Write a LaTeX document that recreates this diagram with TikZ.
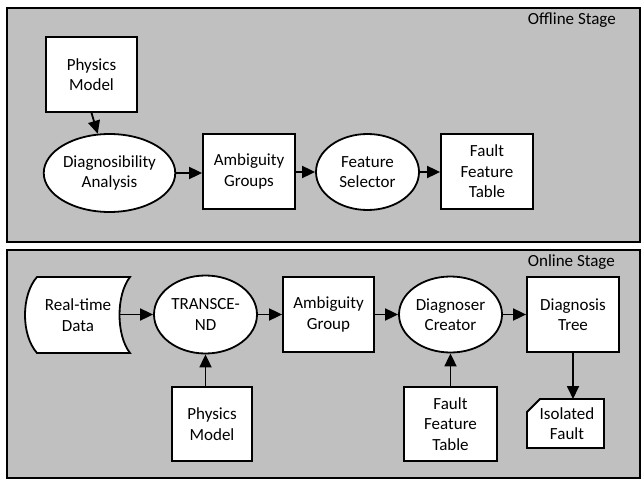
\documentclass[tikz,border=0pt]{standalone}
\usepackage{fontspec}
\setmainfont{Carlito}
\usetikzlibrary{arrows.meta,shapes.geometric,calc}
\definecolor{panelgray}{RGB}{192,192,192}
\begin{document}
\begin{tikzpicture}[x=1pt,y=-1pt,
  every node/.style={font=\fontsize{17}{20.5}\selectfont, align=center, inner sep=0pt},
  panel/.style={draw=black, line width=2pt, fill=panelgray},
  boxnode/.style={draw=black, line width=1.8pt, fill=white, minimum width=92pt, minimum height=75pt},
  ellnode/.style={ellipse, draw=black, line width=1.8pt, fill=white, minimum width=103pt, minimum height=77pt},
  shapeline/.style={draw=black, line width=1.8pt, fill=white},
  flow/.style={draw=black, line width=1.8pt, -{Triangle[length=13pt,width=12pt]}}
]
\useasboundingbox (0,0) rectangle (644,481);
\fill[white] (0,0) rectangle (644,481);
% panels
\draw[panel] (7,8) rectangle (640,242);
\draw[panel] (7,250) rectangle (640,478);
\node[anchor=east] (off) at (616,20) {Offline Stage};
\node[anchor=east] (on) at (615,262) {Online Stage};

% offline stage
\node[boxnode, minimum width=91pt] (pmA) at (91.5,74.5) {Physics\\Model};
\node[ellnode, minimum width=129pt, minimum height=78pt] (da) at (109.5,173) {Diagnosibility\\Analysis};
\node[boxnode] (agA) at (249,171.5) {Ambiguity\\Groups};
\node[ellnode, minimum height=76pt] (fs) at (367.5,172) {Feature\\Selector};
\node[boxnode] (fftA) at (487,171.5) {Fault\\Feature\\Table};

\draw[flow] (pmA.south) -- (da);
\draw[flow] (da.east) -- (da.east -| agA.west);
\draw[flow] (agA.east |- fs.west) -- (fs.west);
\draw[flow] (fs.east) -- (fs.east -| fftA.west);

% online stage
\draw[shapeline] (37,277) -- (130,277) .. controls (116,295) and (116,335) .. (130,353)
  -- (37,353) .. controls (21,335) and (21,295) .. cycle;
\node (rtd) at (78,315) {Real-time\\Data};
\coordinate (rtdE) at (120,314.5);
\node[ellnode, minimum height=78pt] (tr) at (205.5,314.5) {TRANSCE-\\ND};
\node[boxnode, minimum width=91pt] (agB) at (328.5,314.5) {Ambiguity\\Group};
\node[ellnode, minimum height=76pt] (dc) at (450.5,314.5) {Diagnoser\\Creator};
\node[boxnode] (dt) at (573,314.5) {Diagnosis\\Tree};
\node[boxnode, minimum width=80pt, minimum height=74pt] (pmB) at (212,424) {Physics\\Model};
\node[boxnode, minimum width=93pt, minimum height=74pt] (fftB) at (450.5,424) {Fault\\Feature\\Table};
\draw[shapeline] (540,399) -- (604,399) -- (604,448) -- (527,448) -- (527,412) -- cycle;
\node (isf) at (567,423.5) {Isolated\\Fault};

\draw[flow] (rtdE) -- (tr);
\draw[flow] (tr.east) -- (tr.east -| agB.west);
\draw[flow] (agB.east) -- (agB.east -| dc.west);
\draw[flow] (dc.east) -- (dc.east -| dt.west);
\draw[flow] (tr |- pmB.north) -- (tr.south);
\draw[flow] (fftB.north) -- (dc.south);
\draw[flow] (dt.south) -- (dt.south |- 0,399);
\end{tikzpicture}
\end{document}
